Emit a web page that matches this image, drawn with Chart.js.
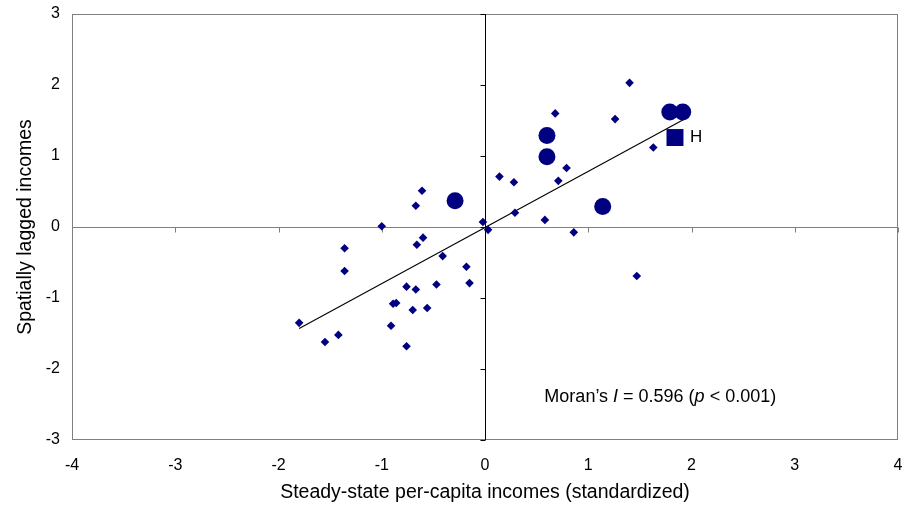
<!DOCTYPE html>
<html><head><meta charset="utf-8">
<script src="https://cdn.jsdelivr.net/npm/chart.js@4/dist/chart.umd.min.js"></script>
<style>html,body{margin:0;padding:0;background:#fff}#wrap{width:910px;height:514px}</style>
</head><body><div id="wrap"><canvas id="c" width="910" height="514"></canvas></div>
<script>
// ---- data ----
const diamondX = [-0.61,-0.67,-1.00,-0.02,0.03,-0.60,-0.66,-1.36,-0.41,-1.36,-0.18,-0.15,-0.47,-0.76,-0.67,-0.89,-0.86,-0.56,-0.70,-1.80,-0.91,-1.42,-1.55,-0.76,
                  0.14,0.28,0.29,0.58,0.86,0.68,0.71,0.79,1.26,1.40,1.63,1.47];
const diamondY = [0.51,0.30,0.01,0.07,-0.04,-0.15,-0.25,-0.30,-0.41,-0.62,-0.56,-0.79,-0.81,-0.84,-0.88,-1.08,-1.07,-1.14,-1.17,-1.35,-1.39,-1.52,-1.62,-1.68,
                  0.71,0.63,0.20,0.10,-0.075,1.60,0.65,0.83,1.52,2.03,1.12,-0.69];
const circleX = [-0.29,0.60,0.60,1.14,1.79,1.915];
const circleY = [0.37,1.29,0.99,0.29,1.62,1.62];
const squareX = [1.84];
const squareY = [1.26];
const squareLabels = ['H'];
const fitX = [-1.80,1.92];
const fitY = [-1.43,1.51];
const xTicks = [-4,-3,-2,-1,0,1,2,3,4];
const yTicks = [-3,-2,-1,0,1,2,3];
const xTitle = 'Steady-state per-capita incomes (standardized)';
const yTitle = 'Spatially lagged incomes';
const moranParts = [['Moran\u2019s ', false], ['I', true], [' = 0.596 (', false], ['p', true], [' < 0.001)', false]];
const moranAt = [0.575, -2.39];

const pts = (xs, ys) => xs.map((x, i) => ({x, y: ys[i]}));
const FONT = "'Liberation Sans', Arial, sans-serif";
const NAVY = '#000080';
const AREA = {left: 72, top: 14, right: 902, bottom: 440};

const framePlugin = {
  id: 'frame',
  beforeDatasetsDraw(chart) {
    const {ctx, chartArea: a, scales: {x, y}} = chart;
    ctx.save();
    ctx.lineWidth = 1;
    ctx.strokeStyle = '#808080';
    ctx.strokeRect(Math.round(a.left) + 0.5, Math.round(a.top) + 0.5, Math.round(a.right - a.left) - 1, Math.round(a.bottom - a.top) - 1);
    const y0 = Math.round(y.getPixelForValue(0)) + 0.5;
    ctx.beginPath();
    ctx.moveTo(a.left, y0); ctx.lineTo(a.right, y0);
    xTicks.forEach(v => {
      const px = Math.round(x.getPixelForValue(v)) + 0.5;
      ctx.moveTo(px, y0); ctx.lineTo(px, y0 + 5);
    });
    ctx.stroke();
    const x0 = Math.round(x.getPixelForValue(0)) + 0.5;
    ctx.strokeStyle = '#000';
    ctx.beginPath();
    ctx.moveTo(x0, a.top); ctx.lineTo(x0, a.bottom);
    yTicks.forEach(v => {
      const py = Math.round(y.getPixelForValue(v)) + 0.5;
      ctx.moveTo(x0, py); ctx.lineTo(x0 - 5, py);
    });
    ctx.stroke();
    ctx.restore();
  },
  afterDatasetsDraw(chart) {
    const {ctx, scales: {x, y}} = chart;
    ctx.save();
    ctx.fillStyle = '#000';
    ctx.textBaseline = 'middle';
    ctx.font = '17px ' + FONT;
    squareX.forEach((sx, i) => {
      ctx.fillText(squareLabels[i], x.getPixelForValue(sx) + 15, y.getPixelForValue(squareY[i]));
    });
    let px = x.getPixelForValue(moranAt[0]);
    const py = y.getPixelForValue(moranAt[1]);
    moranParts.forEach(([t, it]) => {
      ctx.font = (it ? 'italic ' : '') + '18px ' + FONT;
      ctx.fillText(t, px, py);
      px += ctx.measureText(t).width;
    });
    ctx.restore();
  }
};

const chart = new Chart(document.getElementById('c'), {
  type: 'scatter',
  data: {
    datasets: [
      {data: pts(squareX, squareY), pointStyle: 'rect', pointRadius: 12, backgroundColor: NAVY, borderColor: NAVY, borderWidth: 0},
      {data: pts(circleX, circleY), pointStyle: 'circle', pointRadius: 8.5, backgroundColor: NAVY, borderColor: NAVY, borderWidth: 0},
      {data: pts(diamondX, diamondY), pointStyle: 'rectRot', pointRadius: 4.3, backgroundColor: NAVY, borderColor: NAVY, borderWidth: 0},
      {type: 'line', data: pts(fitX, fitY), showLine: true, borderColor: '#000', borderWidth: 1.1, pointRadius: 0, fill: false}
    ]
  },
  options: {
    responsive: false,
    animation: false,
    events: [],
    layout: {padding: {top: 14, right: 8, bottom: 0, left: 0}},
    plugins: {legend: {display: false}, tooltip: {enabled: false}},
    scales: {
      x: {
        type: 'linear', min: -4, max: 4,
        afterBuildTicks: s => { s.ticks = xTicks.map(v => ({value: v})); },
        afterFit: s => { s.height = 74; s.paddingLeft = 0; s.paddingRight = 0; },
        grid: {display: false, drawTicks: false},
        border: {display: false},
        ticks: {color: '#000', font: {family: FONT, size: 16}, padding: 16, maxRotation: 0, autoSkip: false},
        title: {display: true, text: xTitle, color: '#000', font: {family: FONT, size: 19.5}, padding: {top: 0, bottom: 10}}
      },
      y: {
        type: 'linear', min: -3, max: 3,
        afterBuildTicks: s => { s.ticks = yTicks.map(v => ({value: v})); },
        afterFit: s => { s.width = 72; s.paddingTop = 0; s.paddingBottom = 0; },
        grid: {display: false, drawTicks: false},
        border: {display: false},
        ticks: {color: '#000', font: {family: FONT, size: 16}, padding: 12, autoSkip: false},
        title: {display: true, text: yTitle, color: '#000', font: {family: FONT, size: 19.5}, padding: {top: 14, bottom: 0}}
      }
    }
  },
  plugins: [framePlugin]
});
for (let k = 0; k < 3; k++) {
  const a = chart.chartArea, p = chart.options.layout.padding;
  const dr = a.right - AREA.right, dt = a.top - AREA.top, db = a.bottom - AREA.bottom, dl = a.left - AREA.left;
  if (!dr && !dt && !db && !dl) break;
  p.right = Math.max(0, p.right + dr);
  p.top = Math.max(0, p.top - dt);
  p.bottom = Math.max(0, p.bottom + db);
  p.left = Math.max(0, p.left - dl);
  chart.update();
}
</script>
</body></html>
